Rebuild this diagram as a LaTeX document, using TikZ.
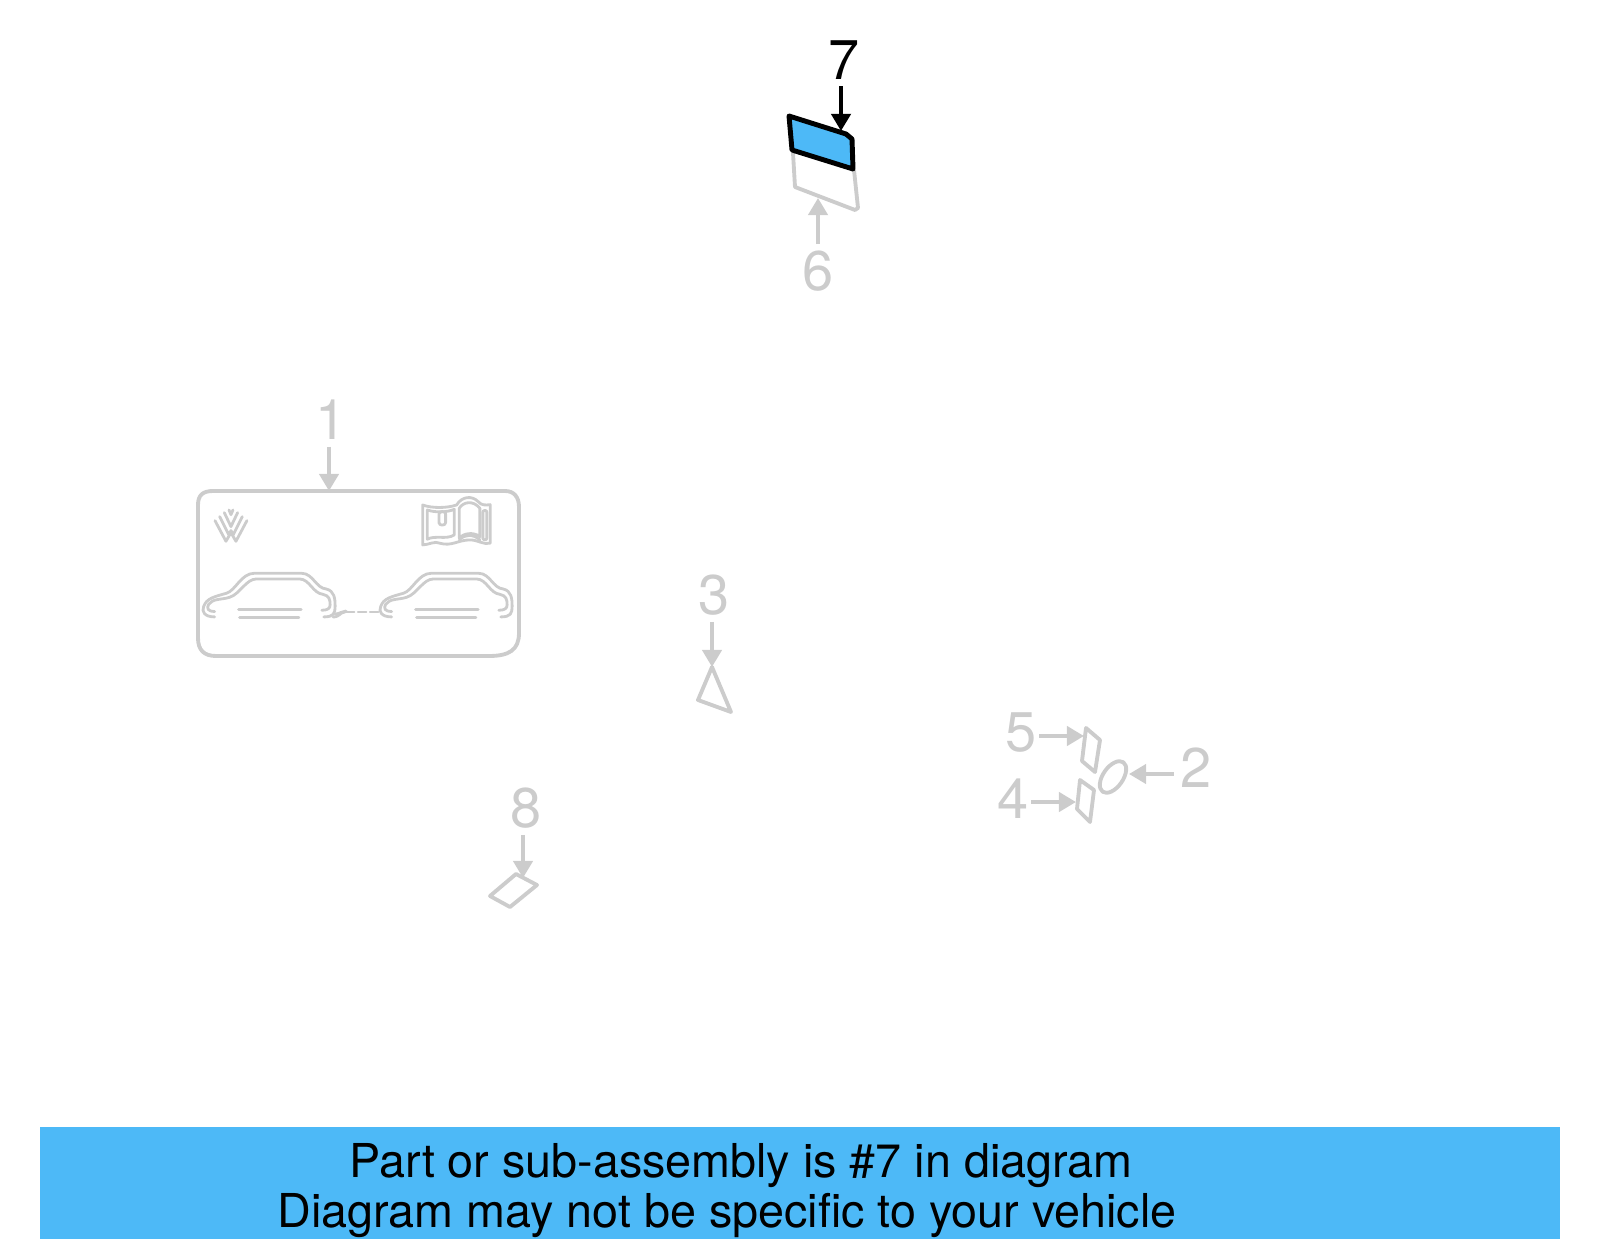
\documentclass[tikz,border=0pt]{standalone}
\usepackage{fontspec}
\setmainfont{TeX Gyre Heros}
\usetikzlibrary{arrows.meta,positioning}
\definecolor{partgray}{HTML}{CCCCCC}
\definecolor{partblue}{HTML}{4DB9F7}
\tikzset{
  callout/.style={font=\fontsize{15.9}{16}\selectfont,inner sep=1.7pt,text=partgray},
  pointer/.style={line width=1.1pt,partgray,-{Triangle[length=4.9pt,width=5.5pt]}},
  outline/.style={line width=1.1pt,partgray,line join=round},
  detail/.style={line width=0.8pt,partgray,line join=round,line cap=round},
  bannertext/.style={font=\fontsize{13.28}{14.2}\selectfont,inner sep=0pt,anchor=base,text=black},
}
\begin{document}
\begin{tikzpicture}[x=0.01cm,y=-0.01cm]
  \useasboundingbox (0,0) rectangle (1600,1249);

  % banner
  \fill[partblue] (40,1127) rectangle (1560,1239);
  \node[bannertext] (line1) at (741,1177) {Part or sub-assembly is \#7 in diagram};
  \node[bannertext] (line2) at (727,1227) {Diagram may not be specific to your vehicle};

  % part 6
  \draw[outline] (793,153) -- (795,187) -- (855,210) -- (858,208) -- (854,170);
  \coordinate (tip6) at (818,198);
  \node[callout] (lbl6) at (818,271) {6};
  \draw[pointer] (lbl6.north -| tip6) -- (tip6);

  % part 7
  \draw[line width=1.4pt,black,fill=partblue,line join=round] (789,116) -- (846,134) -- (852,139) -- (853,169) -- (792,150) -- cycle;
  \coordinate (tip7) at (841,131);
  \node[callout,text=black] (lbl7) at (844,60) {7};
  \draw[pointer,black] (lbl7.south -| tip7) -- (tip7);

  % part 1
  \draw[outline] (198,505) .. controls (198,495) and (203,491) .. (213,491) -- (505,491)
    .. controls (514,491) and (519,497) .. (519,507) -- (519,633)
    .. controls (519,650) and (509,656) .. (489,656) -- (216,656)
    .. controls (204,656) and (198,650) .. (198,638) -- cycle;
  \coordinate (tip1) at (329,491);
  \node[callout] (lbl1) at (331,420) {1};
  \draw[pointer] (lbl1.south -| tip1) -- (tip1);

  \foreach \carx in {0,177} {
    \begin{scope}[shift={(198+\carx,565)},x=0.00333cm,y=-0.00333cm]
      \draw[detail] (50,156) .. controls (20,156) and (10,140) .. (17,125)
        .. controls (25,100) and (50,95) .. (85,85)
        .. controls (112,78) and (130,25) .. (168,25) -- (312,25)
        .. controls (345,25) and (355,70) .. (385,72)
        .. controls (410,78) and (412,100) .. (412,125)
        .. controls (412,145) and (408,156) .. (378,156);
      \draw[detail] (50,140) .. controls (30,140) and (25,130) .. (32,118)
        .. controls (45,100) and (70,105) .. (95,97)
        .. controls (125,88) and (145,42) .. (175,42) -- (305,42)
        .. controls (335,42) and (345,85) .. (375,88)
        .. controls (395,92) and (397,105) .. (397,120)
        .. controls (397,130) and (390,136) .. (372,136);
      \draw[detail] (122,133) -- (310,133);
      \draw[detail] (125,158) -- (303,158);
    \end{scope}
  }
  \draw[detail] (333,617) .. controls (340,617) and (340,612) .. (345,612);
  \draw[detail] (335,614) .. controls (340,614) and (342,611) .. (346,611);
  \draw[detail,line width=0.6pt,dash pattern=on 2.4pt off 1pt] (346,612) -- (380,612);

  % logo
  \begin{scope}[shift={(205,500)},x=0.00333cm,y=-0.00333cm]
    \draw[detail] (30,62) -- (63,124) -- (78,98) -- (93,124) -- (126,62);
    \draw[detail] (44,50) -- (71,104) -- (78,92) -- (85,104) -- (112,50);
    \draw[detail] (58,38) -- (78,80) -- (98,38);
    \draw[detail] (72,30) -- (78,44) -- (84,30);
  \end{scope}

  % manual
  \begin{scope}[shift={(415,490)},x=0.00333cm,y=-0.00333cm]
    \draw[detail] (23,45) .. controls (50,55) and (95,55) .. (125,45)
      .. controls (140,20) and (170,15) .. (190,35)
      .. controls (200,48) and (215,45) .. (226,44)
      -- (226,160) .. controls (205,165) and (190,150) .. (165,150)
      .. controls (130,150) and (110,170) .. (75,160)
      .. controls (60,152) and (40,165) .. (23,165) -- cycle;
    \draw[detail] (37,60) .. controls (60,68) and (95,68) .. (118,58) -- (118,135)
      .. controls (95,150) and (60,135) .. (37,148) -- cycle;
    \draw[detail] (133,55) .. controls (145,35) and (175,30) .. (195,55) -- (195,140)
      .. controls (175,125) and (145,130) .. (133,145) -- cycle;
    \draw[detail] (133,150) .. controls (150,132) and (175,132) .. (195,150);
    \draw[detail] (72,72) .. controls (72,62) and (92,62) .. (92,72) -- (92,98)
      .. controls (92,108) and (72,108) .. (72,98) -- cycle;
    \draw[detail] (204,66) .. controls (204,60) and (216,60) .. (216,66) -- (216,145)
      .. controls (216,151) and (204,151) .. (204,145) -- cycle;
  \end{scope}

  % part 3
  \draw[outline] (712,667) -- (698,700) -- (731,712) -- cycle;
  \coordinate (tip3) at (712,667);
  \node[callout] (lbl3) at (714,595) {3};
  \draw[pointer] (lbl3.south -| tip3) -- (tip3);

  % part 8
  \draw[outline] (516,874) -- (537,885) -- (510,907) -- (490,896) -- cycle;
  \coordinate (tip8) at (523,878);
  \node[callout] (lbl8) at (526,808) {8};
  \draw[pointer] (lbl8.south -| tip8) -- (tip8);

  % parts 5, 4, 2
  \draw[outline] (1086,728) -- (1100,740) -- (1095,772) -- (1082,761) -- cycle;
  \coordinate (tip5) at (1084,736);
  \node[callout] (lbl5) at (1021,733) {5};
  \draw[pointer,shorten <=-1.1pt] (lbl5.east |- tip5) -- (tip5);

  \draw[outline] (1080,780) -- (1094,790) -- (1090,822) -- (1077,809) -- cycle;
  \coordinate (tip4) at (1076,802);
  \node[callout] (lbl4) at (1013,799) {4};
  \draw[pointer,shorten <=-1.1pt] (lbl4.east |- tip4) -- (tip4);

  \draw[outline,rotate around={55:(1113,777)}] (1113,777) ellipse [x radius=18,y radius=10];
  \coordinate (tip2) at (1129,774);
  \node[callout] (lbl2) at (1196,768) {2};
  \draw[pointer] (lbl2.west |- tip2) -- (tip2);
\end{tikzpicture}
\end{document}
